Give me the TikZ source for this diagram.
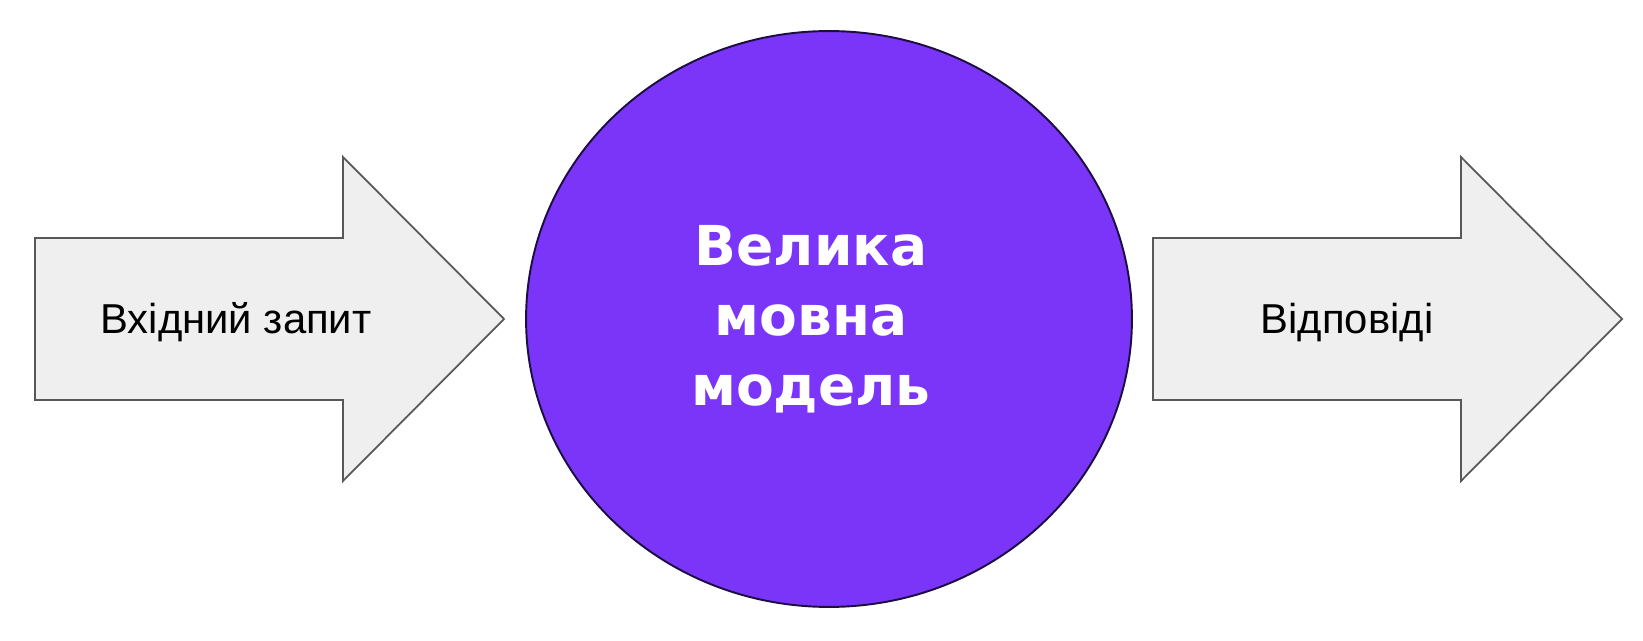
\documentclass[tikz,border=0pt]{standalone}
\usepackage{fontspec}
\setmainfont{Liberation Sans}
\newfontfamily\llmfont{DejaVu Sans}
\usepackage{xcolor}

\definecolor{llmpurple}{RGB}{122,53,248}
\definecolor{arrowgray}{RGB}{239,239,239}
\definecolor{edgegray}{RGB}{88,88,88}
\definecolor{edgenavy}{RGB}{28,14,66}

\begin{document}
\begin{tikzpicture}[x=0.02cm,y=0.02cm,
  arrowshape/.style={fill=arrowgray, draw=edgegray, line width=1pt, line join=miter},
  arrowtext/.style={anchor=base, text=black, font=\fontsize{23.8}{28}\selectfont},
  llmtext/.style={anchor=north, inner sep=0pt, align=center, text=white, font=\llmfont\bfseries\fontsize{31.3}{39.8}\selectfont}]

\useasboundingbox[fill=white] (0,0) rectangle (1643,640);

% input
\draw[arrowshape] (35,240)--++(308,0)--++(0,-81)--++(161,162)--++(-161,162)--++(0,-81)--++(-308,0)--cycle;
\node[arrowtext] (query) at (236,307) {Вхідний запит};

% model
\draw[fill=llmpurple, draw=edgenavy, line width=1.1pt] (829,321) ellipse [x radius=6.06cm, y radius=5.76cm];
\node[llmtext] (llm) at (811,415) {Велика\\мовна\\модель};

% output
\draw[arrowshape] (1153,240)--++(308,0)--++(0,-81)--++(161,162)--++(-161,162)--++(0,-81)--++(-308,0)--cycle;
\node[arrowtext] (answer) at (1347,307) {Відповіді};

\end{tikzpicture}
\end{document}
